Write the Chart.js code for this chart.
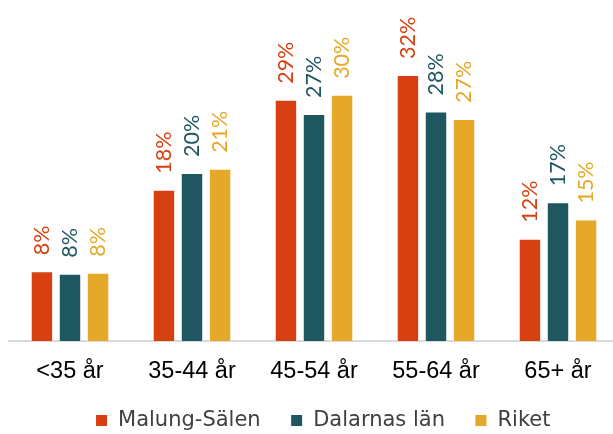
<!DOCTYPE html>
<html>
<head>
<meta charset="utf-8">
<script src="https://cdn.jsdelivr.net/npm/chart.js@4.4.1/dist/chart.umd.min.js"></script>
<style>
html, body { margin: 0; padding: 0; background: #fff; overflow: hidden; }
#wrap { position: relative; width: 619px; height: 434px; }
</style>
</head>
<body>
<div id="wrap"><canvas id="chart"></canvas></div>
<script>
// Åldersgrupper och andelar (%)
const kategorier = ['<35 år', '35-44 år', '45-54 år', '55-64 år', '65+ år'];
const malungSalen = [8.4, 18.2, 29.0, 32.0, 12.3];
const dalarnasLan = [8.1, 20.2, 27.3, 27.6, 16.7];
const riket = [8.2, 20.7, 29.6, 26.7, 14.6];
const serieNamn = ['Malung-Sälen', 'Dalarnas län', 'Riket'];
const farger = ['#D74010', '#1F5761', '#E6A829'];

// Roterade etiketter ovanför staplarna
const etiketter = {
    id: 'etiketter',
    afterDatasetsDraw(chart) {
        const ctx = chart.ctx;
        chart.data.datasets.forEach((ds, i) => {
            const meta = chart.getDatasetMeta(i);
            meta.data.forEach((bar, j) => {
                ctx.save();
                ctx.translate(bar.x, bar.y - 16);
                ctx.rotate(-Math.PI / 2);
                ctx.font = '21.5px Lato';
                ctx.fillStyle = ds.backgroundColor;
                ctx.textAlign = 'left';
                ctx.textBaseline = 'middle';
                ctx.fillText(Math.round(ds.data[j]) + '%', 0, 0);
                ctx.restore();
            });
        });
    }
};

// Flyttar förklaringen lite åt höger
const flyttaLegend = {
    id: 'flyttaLegend',
    afterLayout(chart) {
        chart.legend.left += 9;
        chart.legend.right += 9;
    }
};

const serier = [malungSalen, dalarnasLan, riket];

const ctx = document.getElementById('chart').getContext('2d');
window.stapelChart = new Chart(ctx, {
    type: 'bar',
    data: {
        labels: kategorier,
        datasets: serier.map((data, i) => ({
            label: serieNamn[i],
            data: data,
            backgroundColor: farger[i],
            borderColor: '#ffffff',
            borderWidth: 1,
            barPercentage: 0.8,
            categoryPercentage: 0.69
        }))
    },
    options: {
        responsive: true,
        maintainAspectRatio: false,
        animation: false,
        layout: { padding: { top: 25, left: 9, right: 0, bottom: 0 } },
        scales: {
            x: {
                grid: { display: false, drawTicks: false },
                border: { color: '#d9d9d9', width: 2 },
                ticks: {
                    color: '#000000',
                    font: { family: '"Liberation Sans", Arial', size: 23.5 },
                    padding: 16
                },
                afterFit: (scale) => { scale.height = 39; }
            },
            y: {
                display: false,
                min: 0,
                max: 38
            }
        },
        plugins: {
            legend: {
                position: 'bottom',
                maxHeight: 54,
                labels: {
                    color: '#404040',
                    font: { family: '"DejaVu Sans"', size: 21 },
                    boxWidth: 12,
                    boxHeight: 12,
                    padding: 30
                }
            },
            tooltip: { enabled: false }
        }
    },
    plugins: [etiketter, flyttaLegend]
});
</script>
</body>
</html>
